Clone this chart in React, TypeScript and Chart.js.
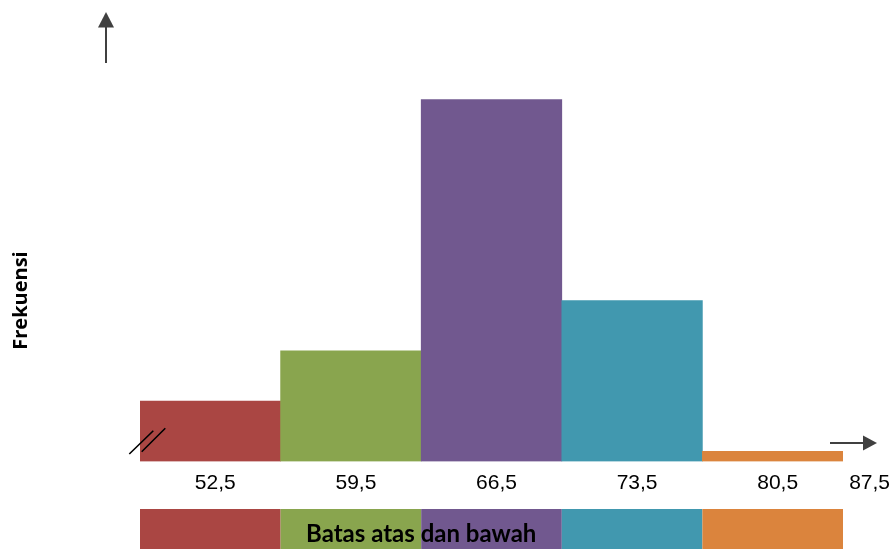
import { useEffect, useRef } from "react";
import { Chart, registerables } from "chart.js";

Chart.register(...registerables);

// Class boundaries (tick labels), frequencies per class and class colours
const classBounds = ["52,5", "59,5", "66,5", "73,5", "80,5", "87,5"];
const frequencies = [6, 11, 36, 16, 1];
const barColors = ["#AA4643", "#89A54E", "#71588F", "#4198AF", "#DB843D"];
const yAxisTitle = "Frekuensi";
const xAxisTitle = "Batas atas dan bawah";

const W = 893;
const H = 549;
const tickFont = { family: "'Liberation Sans', Arial, sans-serif", size: 21, lineHeight: 1.2 };
const tickPadding = 9;
const arrowColor = "#404040";

// Draws the axis arrows, the axis-break mark, the last boundary label,
// the coloured class strip and the axis titles.
const decorations = {
  id: "histDecorations",
  afterDraw(chart: any) {
    const { ctx, chartArea } = chart;
    const { left, right, top, bottom } = chartArea;
    const meta = chart.getDatasetMeta(0);
    const bars = meta.data as any[];
    ctx.save();

    // coloured strip under the tick labels, one block per class
    const stripTop = bottom + 47.5;
    bars.forEach((el: any, i: number) => {
      const w = el.width;
      ctx.fillStyle = barColors[i];
      ctx.fillRect(el.x - w / 2, stripTop, w, chart.height - stripTop);
    });

    // x axis title over the strip
    const bw = bars[1].width;
    ctx.fillStyle = "#000";
    ctx.font = "bold 24px Lato, sans-serif";
    ctx.textAlign = "center";
    ctx.textBaseline = "alphabetic";
    ctx.fillText(xAxisTitle, bars[1].x + bw / 2, chart.height - 7);

    // upper boundary of the last class, on the same line as the tick labels
    ctx.font = `${tickFont.size}px ${tickFont.family}`;
    ctx.textAlign = "right";
    ctx.textBaseline = "middle";
    const labelY = bottom + tickPadding + (tickFont.size * tickFont.lineHeight) / 2;
    ctx.fillText(classBounds[classBounds.length - 1], chart.width - 3, labelY);

    // y axis title
    ctx.save();
    ctx.translate(21, (top + bottom) / 2 + 40);
    ctx.rotate(-Math.PI / 2);
    ctx.font = "bold 20px 'Open Sans', sans-serif";
    ctx.textAlign = "center";
    ctx.textBaseline = "middle";
    ctx.fillText(yAxisTitle, 0, 0);
    ctx.restore();

    // axis break mark "//"
    ctx.strokeStyle = "#000";
    ctx.lineWidth = 1.6;
    ctx.beginPath();
    ctx.moveTo(left - 10.7, bottom - 7.5);
    ctx.lineTo(left + 13.3, bottom - 30.8);
    ctx.moveTo(left + 1.7, bottom - 9.8);
    ctx.lineTo(left + 25.3, bottom - 33.2);
    ctx.stroke();

    // y arrow
    const ax = left - 34;
    ctx.strokeStyle = arrowColor;
    ctx.fillStyle = arrowColor;
    ctx.lineWidth = 2;
    ctx.beginPath();
    ctx.moveTo(ax, top + 3.5);
    ctx.lineTo(ax, top - 33);
    ctx.stroke();
    ctx.beginPath();
    ctx.moveTo(ax, top - 47.5);
    ctx.lineTo(ax - 8, top - 32);
    ctx.lineTo(ax + 8, top - 32);
    ctx.closePath();
    ctx.fill();

    // x arrow
    const ay = bottom - 18.5;
    ctx.beginPath();
    ctx.moveTo(right - 13, ay);
    ctx.lineTo(right + 21, ay);
    ctx.stroke();
    ctx.beginPath();
    ctx.moveTo(right + 34, ay);
    ctx.lineTo(right + 20, ay - 7.5);
    ctx.lineTo(right + 20, ay + 7.5);
    ctx.closePath();
    ctx.fill();

    ctx.restore();
  },
};

export default function App() {
  const canvasRef = useRef<HTMLCanvasElement | null>(null);

  useEffect(() => {
    const canvas = canvasRef.current;
    if (!canvas) return;
    const chart = new Chart(canvas, {
      type: "bar",
      data: {
        labels: classBounds.slice(0, frequencies.length),
        datasets: [
          {
            data: frequencies,
            backgroundColor: barColors,
            borderWidth: 0,
            barPercentage: 1,
            categoryPercentage: 1,
          },
        ],
      },
      options: {
        responsive: false,
        animation: false,
        devicePixelRatio: 1,
        layout: { padding: { left: 140, right: 50, top: 59.5, bottom: 39.5 } },
        plugins: {
          legend: { display: false },
          tooltip: { enabled: false },
        },
        scales: {
          y: { display: false, min: 0, max: 40 },
          x: {
            grid: { display: false, drawTicks: false },
            border: { display: false },
            ticks: {
              color: "#000",
              font: tickFont,
              padding: tickPadding,
              labelOffset: 5,
              maxRotation: 0,
              autoSkip: false,
            },
            afterFit: (scale: any) => {
              scale.height = 48;
            },
          },
        },
      },
      plugins: [decorations],
    });
    return () => chart.destroy();
  }, []);

  return (
    <div style={{ position: "absolute", left: 0, top: 0, width: W, height: H, background: "#fff" }}>
      <canvas ref={canvasRef} width={W} height={H} style={{ width: W, height: H, display: "block" }} />
    </div>
  );
}
